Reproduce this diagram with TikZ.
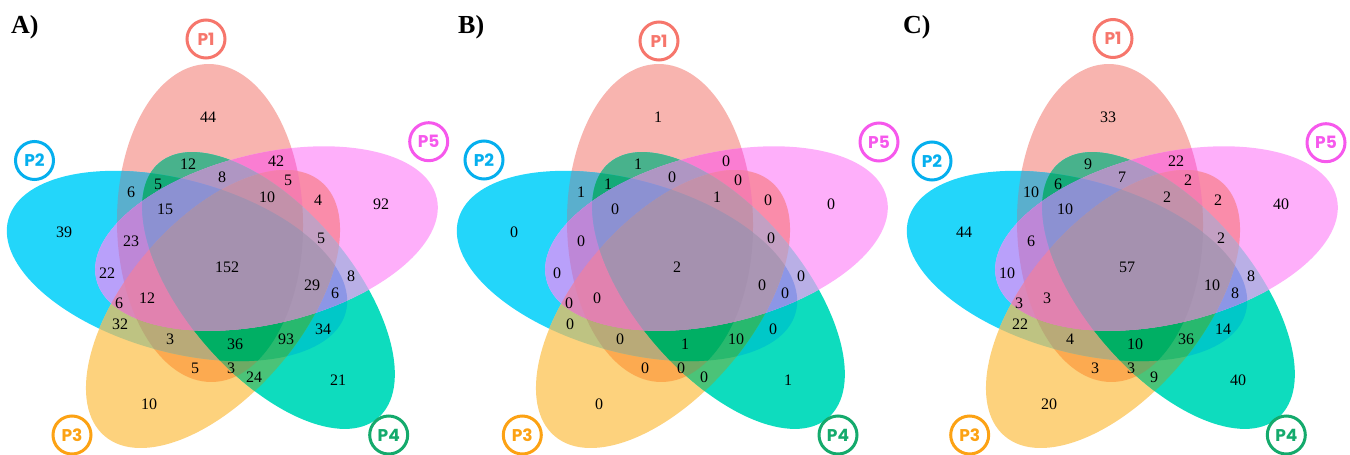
\documentclass[tikz,border=0pt]{standalone}
\usepackage{fontspec}
\setmainfont{Liberation Serif}
\newfontfamily\lblfont{Poppins}
\definecolor{r1}{RGB}{248,180,175}
\definecolor{r2}{RGB}{35,214,250}
\definecolor{r3}{RGB}{253,210,125}
\definecolor{r4}{RGB}{14,220,190}
\definecolor{r5}{RGB}{254,175,250}
\definecolor{r12}{RGB}{90,175,205}
\definecolor{r13}{RGB}{252,170,80}
\definecolor{r14}{RGB}{72,178,140}
\definecolor{r15}{RGB}{250,125,210}
\definecolor{r23}{RGB}{190,195,130}
\definecolor{r24}{RGB}{0,200,200}
\definecolor{r25}{RGB}{185,160,250}
\definecolor{r34}{RGB}{75,195,120}
\definecolor{r35}{RGB}{250,140,170}
\definecolor{r45}{RGB}{185,175,230}
\definecolor{r123}{RGB}{185,170,120}
\definecolor{r124}{RGB}{20,170,120}
\definecolor{r125}{RGB}{190,135,215}
\definecolor{r134}{RGB}{110,170,100}
\definecolor{r135}{RGB}{245,125,175}
\definecolor{r145}{RGB}{175,150,195}
\definecolor{r234}{RGB}{40,185,110}
\definecolor{r235}{RGB}{220,135,185}
\definecolor{r245}{RGB}{140,150,230}
\definecolor{r345}{RGB}{195,160,195}
\definecolor{r1234}{RGB}{0,175,100}
\definecolor{r1235}{RGB}{225,130,175}
\definecolor{r1245}{RGB}{140,145,210}
\definecolor{r1345}{RGB}{195,145,170}
\definecolor{r2345}{RGB}{170,150,180}
\definecolor{r12345}{RGB}{165,145,175}
\definecolor{l1}{RGB}{246,118,108}
\definecolor{l2}{RGB}{5,175,238}
\definecolor{l3}{RGB}{252,162,20}
\definecolor{l4}{RGB}{20,170,108}
\definecolor{l5}{RGB}{246,88,236}
\tikzset{
  e1/.style={shift={(210,223)},rotate=90.7,xscale=159,yscale=93},
  e2/.style={shift={(177,266)},rotate=-15.5,xscale=175,yscale=86},
  e3/.style={shift={(213,309)},rotate=49.5,xscale=167,yscale=87},
  e4/.style={shift={(268.5,290.5)},rotate=-49.3,xscale=168,yscale=83},
  e5/.style={shift={(266.5,238.5)},rotate=13.5,xscale=175,yscale=85},
  num/.style={font=\fontsize{16}{16}\selectfont, inner sep=0pt, text=black},
  setlbl/.style={circle, draw=#1, line width=3pt, minimum size=38pt, inner sep=0pt,
    text=#1, font=\lblfont\bfseries\fontsize{17}{17}\selectfont},
  paneltag/.style={font=\bfseries\fontsize{26}{26}\selectfont, anchor=base west, inner sep=0pt}
}
\newcommand\vnclip[1]{\clip[e#1] (0,0) circle[radius=1pt];}
\newcommand\vnfill[2]{\fill[#2,e#1] (0,0) circle[radius=1pt];}
\newcommand\rtwo[3]{\begin{scope}\vnclip{#1}\vnfill{#2}{#3}\end{scope}}
\newcommand\rthree[4]{\begin{scope}\vnclip{#1}\vnclip{#2}\vnfill{#3}{#4}\end{scope}}
\newcommand\rfour[5]{\begin{scope}\vnclip{#1}\vnclip{#2}\vnclip{#3}\vnfill{#4}{#5}\end{scope}}
\newcommand\rfive[1]{\begin{scope}\vnclip{1}\vnclip{2}\vnclip{3}\vnclip{4}\vnfill{5}{#1}\end{scope}}
\newcommand\vennshapes{%
  \vnfill{1}{r1}\vnfill{2}{r2}\vnfill{3}{r3}\vnfill{4}{r4}\vnfill{5}{r5}
  \rtwo{1}{2}{r12}\rtwo{1}{3}{r13}\rtwo{1}{4}{r14}\rtwo{1}{5}{r15}
  \rtwo{2}{3}{r23}\rtwo{2}{4}{r24}\rtwo{2}{5}{r25}
  \rtwo{3}{4}{r34}\rtwo{3}{5}{r35}\rtwo{4}{5}{r45}
  \rthree{1}{2}{3}{r123}\rthree{1}{2}{4}{r124}\rthree{1}{2}{5}{r125}
  \rthree{1}{3}{4}{r134}\rthree{1}{3}{5}{r135}\rthree{1}{4}{5}{r145}
  \rthree{2}{3}{4}{r234}\rthree{2}{3}{5}{r235}\rthree{2}{4}{5}{r245}
  \rthree{3}{4}{5}{r345}
  \rfour{1}{2}{3}{4}{r1234}\rfour{1}{2}{3}{5}{r1235}\rfour{1}{2}{4}{5}{r1245}
  \rfour{1}{3}{4}{5}{r1345}\rfour{2}{3}{4}{5}{r2345}
  \rfive{r12345}%
}
\begin{document}
\begin{tikzpicture}[x=1pt,y=-1pt]
\useasboundingbox (0,0) rectangle (1350,455);
% ---------------- Panel A
\begin{scope}
  \vennshapes
  \node[paneltag] (tagA) at (11,33) {A)};
  \node[setlbl=l1] (A-P1) at (206,39) {P1};
  \node[setlbl=l2] (A-P2) at (34.5,160.5) {P2};
  \node[setlbl=l3] (A-P3) at (72,435) {P3};
  \node[setlbl=l4] (A-P4) at (388.7,435) {P4};
  \node[setlbl=l5] (A-P5) at (428.7,141.7) {P5};
  \foreach \x/\y/\v [count=\k] in {208/117/44, 188/164/12, 276/161/42, 131/192/6,
     158/184/5, 222/177/8, 288/180/5, 267/197/10, 318/200/4, 165/209/15,
     131/241/23, 107/273/22, 321/238/5, 227/267/152, 312/285/29, 351/276/8,
     335/293/6, 147/298/12, 119/303/6, 120/324/32, 170/339/3, 235/344/36,
     286/339/93, 323/329/34, 195/368/5, 231/368/3, 254/377/24, 149/404/10,
     338/380/21, 64/232/39, 381/204/92}
    \node[num] (A-n\k) at (\x,\y) {\v};
\end{scope}
% ---------------- Panel B
\begin{scope}[shift={(450,0)}]
  \vennshapes
  \node[paneltag] (tagB) at (8,33) {B)};
  \node[setlbl=l1] (B-P1) at (209,41) {P1};
  \node[setlbl=l2] (B-P2) at (34,160) {P2};
  \node[setlbl=l3] (B-P3) at (72.3,435) {P3};
  \node[setlbl=l4] (B-P4) at (388,435) {P4};
  \node[setlbl=l5] (B-P5) at (429,142) {P5};
  \foreach \x/\y/\v [count=\k] in {208/117/1, 188/164/1, 276/161/0, 131/192/1,
     158/184/1, 222/177/0, 288/180/0, 267/197/1, 318/200/0, 165/209/0,
     131/241/0, 107/273/0, 321/238/0, 227/267/2, 312/285/0, 351/276/0,
     335/293/0, 147/298/0, 119/303/0, 120/324/0, 170/339/0, 235/344/1,
     286/339/10, 323/329/0, 195/368/0, 231/368/0, 254/377/0, 149/404/0,
     338/380/1, 64/232/0, 381/204/0}
    \node[num] (B-n\k) at (\x,\y) {\v};
\end{scope}
% ---------------- Panel C
\begin{scope}[shift={(900,0)}]
  \vennshapes
  \node[paneltag] (tagC) at (3,33) {C)};
  \node[setlbl=l1] (C-P1) at (213,38.5) {P1};
  \node[setlbl=l2] (C-P2) at (32,161) {P2};
  \node[setlbl=l3] (C-P3) at (69.7,435) {P3};
  \node[setlbl=l4] (C-P4) at (386.3,435) {P4};
  \node[setlbl=l5] (C-P5) at (426,142.7) {P5};
  \foreach \x/\y/\v [count=\k] in {208/117/33, 188/164/9, 276/161/22, 131/192/10,
     158/184/6, 222/177/7, 288/180/2, 267/197/2, 318/200/2, 165/209/10,
     131/241/6, 107/273/10, 321/238/2, 227/267/57, 312/285/10, 351/276/8,
     335/293/8, 147/298/3, 119/303/3, 120/324/22, 170/339/4, 235/344/10,
     286/339/36, 323/329/14, 195/368/3, 231/368/3, 254/377/9, 149/404/20,
     338/380/40, 64/232/44, 381/204/40}
    \node[num] (C-n\k) at (\x,\y) {\v};
\end{scope}
\end{tikzpicture}
\end{document}
